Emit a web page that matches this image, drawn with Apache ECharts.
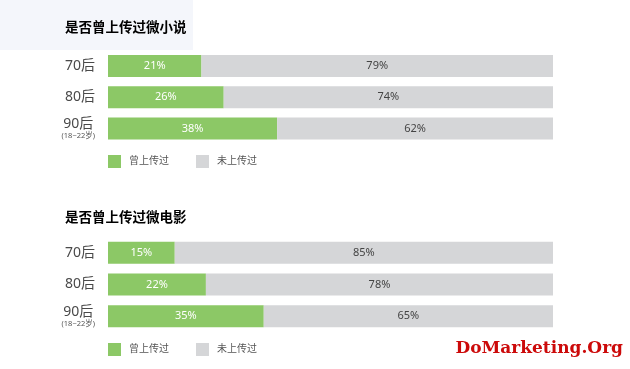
<!DOCTYPE html>
<html>
<head>
<meta charset="utf-8">
<script src="https://cdn.jsdelivr.net/npm/echarts@6/dist/echarts.min.js"></script>
<style>
html,body{margin:0;padding:0;background:#fff;}
#chart{width:630px;height:369px;}
</style>
</head>
<body>
<div id="chart"></div>
<script>
var categories = ['70后', '80后', '90后'];
var seriesNames = ['曾上传过', '未上传过'];
var novelUploaded = [21, 26, 38];
var novelNotUploaded = [79, 74, 62];
var filmUploaded = [15, 22, 35];
var filmNotUploaded = [85, 78, 65];
var titles = ['是否曾上传过微小说', '是否曾上传过微电影'];
var watermark = 'DoMarketing.Org';

var GREEN = '#8cc866';
var GRAY = '#d5d6d8';
var FONT = '"Noto Sans", "Noto Sans CJK SC", sans-serif';

var chart = echarts.init(document.getElementById('chart'));

function yAxisFor(gridIndex) {
  return {
    type: 'category',
    gridIndex: gridIndex,
    data: categories,
    inverse: true,
    axisLine: { show: false },
    axisTick: { show: false },
    axisLabel: {
      margin: 13,
      fontFamily: FONT,
      fontSize: 14,
      color: '#4a4a4a',
      formatter: function (v) {
        if (v === '90后') return '{a|90后}\n{b|(18~22岁)}';
        return v;
      },
      rich: {
        a: { fontSize: 14, color: '#4a4a4a', fontFamily: FONT, align: 'center', lineHeight: 15 },
        b: { fontSize: 7.5, color: '#555', fontFamily: FONT, align: 'center', lineHeight: 9 }
      }
    }
  };
}
function xAxisFor(gridIndex) {
  return {
    type: 'value', gridIndex: gridIndex, min: 0, max: 100,
    show: false
  };
}
function barSeries(name, data, idx, color, labelColor) {
  return {
    name: name,
    type: 'bar',
    stack: 'total' + idx,
    xAxisIndex: idx,
    yAxisIndex: idx,
    data: data,
    barWidth: 22,
    itemStyle: { color: color },
    emphasis: { disabled: true },
    label: {
      show: true,
      position: 'inside',
      formatter: '{c}%',
      color: labelColor,
      fontFamily: FONT,
      fontSize: 11
    }
  };
}
function legendFor(top) {
  return {
    left: 108,
    top: top,
    padding: 0,
    itemWidth: 13,
    itemHeight: 13,
    itemGap: 27,
    icon: 'rect',
    data: seriesNames,
    selectedMode: false,
    textStyle: { fontFamily: FONT, fontSize: 10, color: '#555', padding: [0, 0, 0, 3] }
  };
}

chart.setOption({
  animation: false,
  backgroundColor: '#fff',
  color: [GREEN, GRAY],
  grid: [
    { left: 108, right: 77, top: 50.5, height: 93.5 },
    { left: 108, right: 77, top: 237, height: 95 }
  ],
  xAxis: [xAxisFor(0), xAxisFor(1)],
  yAxis: [yAxisFor(0), yAxisFor(1)],
  legend: [legendFor(155), legendFor(343)],
  series: [
    barSeries(seriesNames[0], novelUploaded, 0, GREEN, '#fff'),
    barSeries(seriesNames[1], novelNotUploaded, 0, GRAY, '#444'),
    barSeries(seriesNames[0], filmUploaded, 1, GREEN, '#fff'),
    barSeries(seriesNames[1], filmNotUploaded, 1, GRAY, '#444')
  ],
  graphic: [
    { type: 'rect', left: 0, top: 0, z: -10, shape: { width: 193, height: 50 }, style: { fill: '#f4f6fb' } },
    { type: 'text', left: 65, top: 20, style: { text: titles[0], font: 'bold 13.5px "Noto Sans CJK SC", sans-serif', fill: '#000' } },
    { type: 'text', left: 65, top: 210, style: { text: titles[1], font: 'bold 13.5px "Noto Sans CJK SC", sans-serif', fill: '#000' } },
    { type: 'text', right: 7, top: 340, style: { text: watermark, font: 'bold 17px "DejaVu Serif", serif', fill: '#cc0a0a' } }
  ]
});
</script>
</body>
</html>
